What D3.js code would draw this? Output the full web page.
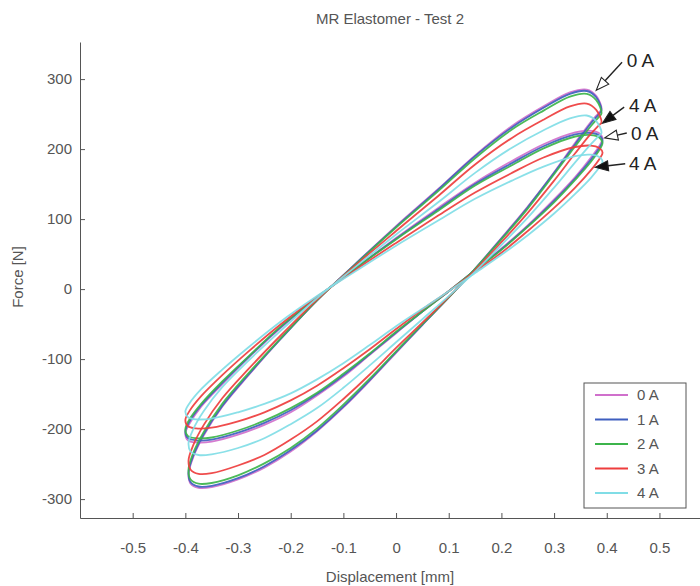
<!DOCTYPE html>
<html>
<head>
<meta charset="utf-8">
<script src="https://cdn.jsdelivr.net/npm/d3@7"></script>
<style>
  html, body { margin: 0; padding: 0; background: #fff; }
  svg { display: block; font-family: "Liberation Sans", Arial, sans-serif; }
</style>
</head>
<body>
<svg id="chart" width="700" height="586"></svg>
<script>
// values (displacement in mm, force in N)
const currents = ['0 A', '1 A', '2 A', '3 A', '4 A'];
const xTicks = [-0.5, -0.4, -0.3, -0.2, -0.1, 0, 0.1, 0.2, 0.3, 0.4, 0.5];
const yTicks = [-300, -200, -100, 0, 100, 200, 300];

// sample displacements around each loop: right tip -> upper branch -> left tip -> lower branch
const bigDisp = [0.390, 0.380, 0.362, 0.33, 0.28, 0.22, 0.15, 0.08, 0.00, -0.08, -0.15, -0.22, -0.28, -0.33, -0.365, -0.385, -0.394,
  -0.390, -0.375,
  -0.35, -0.30, -0.25, -0.20, -0.15, -0.10, -0.05, 0.00, 0.05, 0.10, 0.15, 0.20, 0.25, 0.30, 0.34, 0.37, 0.385];
const smallDisp = [0.392, 0.385, 0.37, 0.34, 0.28, 0.22, 0.15, 0.08, 0.00, -0.08, -0.15, -0.22, -0.28, -0.33, -0.37, -0.392, -0.400,
  -0.395, -0.38,
  -0.35, -0.30, -0.25, -0.20, -0.15, -0.10, -0.05, 0.00, 0.05, 0.10, 0.15, 0.20, 0.25, 0.30, 0.34, 0.37, 0.387];

// steep (high force) loops
const bigForce0A = [257, 276, 285, 281, 261, 233, 191, 143, 90, 34, -16, -72, -123, -168, -209, -240, -264,
  -278, -284,
  -283, -272, -255, -232, -203, -169, -131, -91, -51, -12, 29, 73, 118, 167, 209, 239, 252];
const bigForce1A = [255, 274, 283, 279, 259, 231, 190, 142, 89, 34, -16, -72, -122, -167, -207, -238, -262,
  -276, -282,
  -281, -270, -253, -230, -202, -168, -130, -90, -51, -12, 29, 72, 117, 166, 207, 237, 250];
const bigForce2A = [251, 270, 279, 275, 255, 228, 187, 140, 88, 33, -16, -71, -120, -164, -204, -234, -258,
  -272, -278,
  -277, -266, -249, -227, -199, -165, -128, -89, -50, -12, 29, 71, 115, 164, 204, 233, 246];
const bigForce3A = [238, 256, 265, 261, 242, 216, 178, 133, 83, 32, -15, -67, -114, -156, -194, -223, -245,
  -258, -264,
  -263, -252, -237, -215, -189, -157, -122, -84, -48, -11, 27, 67, 109, 155, 194, 222, 234];
const bigForce4A = [223, 240, 248, 244, 227, 202, 166, 124, 78, 30, -13, -60, -102, -140, -174, -200, -220,
  -232, -237,
  -236, -227, -213, -193, -170, -141, -109, -76, -43, -10, 25, 63, 102, 145, 181, 207, 219];

// flatter (low force) loops
const smallForce0A = [215, 223, 226, 224, 207, 183, 152, 116, 73, 28, -12, -56, -98, -136, -168, -192, -206,
  -216, -219,
  -218, -208, -194, -176, -152, -125, -94, -63, -32, -3, 27, 58, 91, 128, 160, 188, 206];
const smallForce1A = [212, 220, 223, 221, 204, 180, 150, 114, 72, 28, -12, -55, -97, -134, -166, -189, -203,
  -213, -216,
  -215, -205, -191, -173, -150, -123, -93, -62, -32, -3, 27, 57, 90, 126, 158, 185, 203];
const smallForce2A = [209, 217, 220, 218, 201, 177, 148, 112, 71, 28, -12, -54, -96, -132, -164, -186, -200,
  -210, -213,
  -212, -202, -188, -170, -148, -121, -92, -61, -32, -3, 27, 56, 89, 124, 156, 182, 200];
const smallForce3A = [195, 202, 205, 203, 188, 166, 138, 105, 66, 26, -11, -51, -89, -123, -153, -174, -187,
  -196, -199,
  -198, -189, -176, -159, -138, -113, -86, -57, -29, -3, 25, 52, 83, 116, 145, 170, 187];
const smallForce4A = [182, 189, 192, 190, 175, 155, 129, 98, 62, 24, -10, -47, -83, -115, -143, -163, -175,
  -183, -186,
  -185, -176, -164, -149, -129, -106, -80, -53, -28, -3, 23, 49, 77, 108, 136, 159, 175];

const bigForces = [bigForce0A, bigForce1A, bigForce2A, bigForce3A, bigForce4A];
const smallForces = [smallForce0A, smallForce1A, smallForce2A, smallForce3A, smallForce4A];

const colors = ['#d070cc', '#3f5fbf', '#3cb44b', '#ee3d3d', '#80dde6'];

const svg = d3.select('#chart');
const ink = '#555';

const x = d3.scaleLinear().domain([-0.6, 0.577]).range([80, 700]);
const y = d3.scaleLinear().domain([-327, 353]).range([518, 42]);

//
// TITLE / LABELS
//
svg.append('text')
  .attr('x', 390).attr('y', 24)
  .attr('text-anchor', 'middle')
  .attr('font-size', 15)
  .attr('fill', ink)
  .text('MR Elastomer - Test 2');

svg.append('text')
  .attr('x', 390).attr('y', 582)
  .attr('text-anchor', 'middle')
  .attr('font-size', 15)
  .attr('fill', ink)
  .text('Displacement [mm]');

svg.append('text')
  .attr('transform', 'translate(23,277) rotate(-90)')
  .attr('text-anchor', 'middle')
  .attr('font-size', 15)
  .attr('fill', ink)
  .text('Force [N]');

//
// AXES
//
const xAxis = svg.append('g')
  .attr('transform', `translate(0,${y(-327)})`)
  .call(d3.axisBottom(x).tickValues(xTicks).tickSizeInner(-5).tickSizeOuter(0)
    .tickPadding(24).tickFormat((d) => String(d)));

const yAxis = svg.append('g')
  .attr('transform', `translate(${x(-0.6)},0)`)
  .call(d3.axisLeft(y).tickValues(yTicks).tickSizeInner(-5).tickSizeOuter(0)
    .tickPadding(8).tickFormat((d) => String(d)));

[xAxis, yAxis].forEach((a) => {
  a.attr('font-size', 15).attr('font-family', null);
  a.select('.domain').attr('stroke', ink);
  a.selectAll('.tick line').attr('stroke', ink);
  a.selectAll('.tick text').attr('fill', ink);
});

//
// LOOPS
//
const loopLine = d3.line()
  .x((d) => x(d[0]))
  .y((d) => y(d[1]))
  .curve(d3.curveCatmullRomClosed.alpha(0.5));

const plot = svg.append('g');

currents.forEach((c, i) => {
  const big = bigDisp.map((d, j) => [d, bigForces[i][j]]);
  const small = smallDisp.map((d, j) => [d, smallForces[i][j]]);
  [big, small].forEach((loop) => {
    plot.append('path')
      .datum(loop)
      .attr('fill', 'none')
      .attr('stroke', colors[i])
      .attr('stroke-width', 1.8)
      .attr('stroke-opacity', 0.92)
      .attr('d', loopLine);
  });
});

//
// LEGEND
//
const legend = svg.append('g');
legend.append('rect')
  .attr('x', 584).attr('y', 383)
  .attr('width', 102).attr('height', 125)
  .attr('fill', '#fff')
  .attr('stroke', ink);

currents.forEach((c, i) => {
  const ly = 395 + i * 24.5;
  legend.append('line')
    .attr('x1', 595).attr('x2', 628)
    .attr('y1', ly).attr('y2', ly)
    .attr('stroke', colors[i])
    .attr('stroke-width', 1.8);
  legend.append('text')
    .attr('x', 637).attr('y', ly)
    .attr('dy', '0.36em')
    .attr('font-size', 15)
    .attr('fill', ink)
    .text(c);
});

//
// ANNOTATIONS (arrows point at the loop tips)
//
const notes = [
  { label: '0 A', tx: 0.438, ty: 317, from: [0.429, 324], to: [0.380, 284], hollow: true },
  { label: '4 A', tx: 0.442, ty: 253, from: [0.433, 260], to: [0.392, 237], hollow: false },
  { label: '0 A', tx: 0.446, ty: 213, from: [0.438, 223], to: [0.396, 216], hollow: true },
  { label: '4 A', tx: 0.442, ty: 170, from: [0.435, 179], to: [0.378, 174], hollow: false },
];

const ann = svg.append('g');
notes.forEach((n) => {
  const x1 = x(n.from[0]), y1 = y(n.from[1]);
  const x2 = x(n.to[0]), y2 = y(n.to[1]);
  const ang = Math.atan2(y2 - y1, x2 - x1);
  const len = 13, half = 5;
  const bx = x2 - len * Math.cos(ang), by = y2 - len * Math.sin(ang);
  ann.append('line')
    .attr('x1', x1).attr('y1', y1)
    .attr('x2', bx).attr('y2', by)
    .attr('stroke', '#222')
    .attr('stroke-width', 1.4);
  const pts = [
    [x2, y2],
    [bx + half * Math.sin(ang), by - half * Math.cos(ang)],
    [bx - half * Math.sin(ang), by + half * Math.cos(ang)],
  ];
  ann.append('polygon')
    .attr('points', pts.map((p) => p.join(',')).join(' '))
    .attr('fill', n.hollow ? '#fff' : '#111')
    .attr('stroke', '#222')
    .attr('stroke-width', 1.1);
  ann.append('text')
    .attr('x', x(n.tx)).attr('y', y(n.ty))
    .attr('font-size', 19)
    .attr('fill', '#222')
    .text(n.label);
});
</script>
</body>
</html>
